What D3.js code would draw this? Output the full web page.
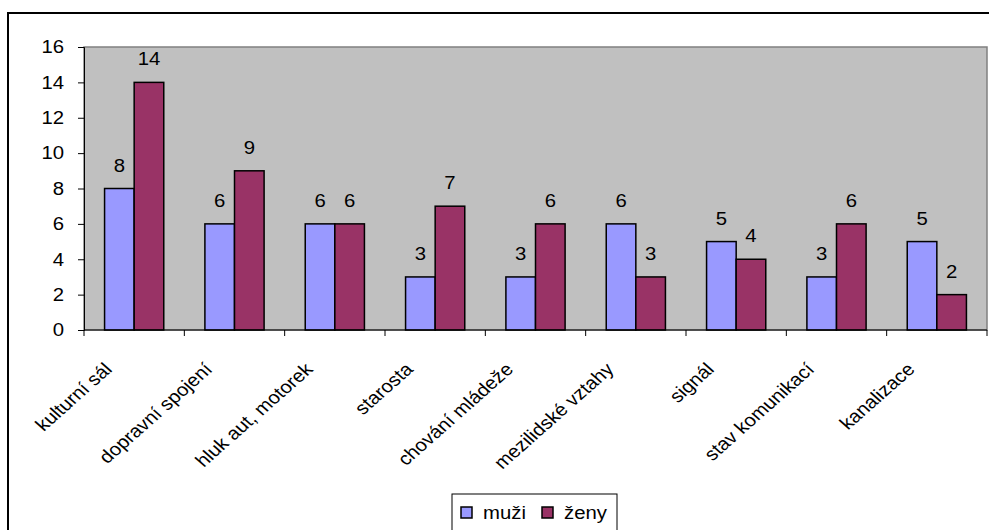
<!DOCTYPE html>
<html>
<head>
<meta charset="utf-8">
<script src="https://cdn.jsdelivr.net/npm/d3@7"></script>
<style>
  html, body { margin: 0; padding: 0; background: #fff; }
  svg { display: block; font-family: "Liberation Sans", Arial, sans-serif; }
</style>
</head>
<body>
<svg id="chart" width="989" height="530"></svg>
<script>
// Survey answers by category, split by gender
const categories = ["kulturní sál", "dopravní spojení", "hluk aut, motorek", "starosta",
  "chování mládeže", "mezilidské vztahy", "signál", "stav komunikací", "kanalizace"];
const muzi = [8, 6, 6, 3, 3, 6, 5, 3, 5];
const zeny = [14, 9, 6, 7, 6, 3, 4, 6, 2];
const seriesNames = ["muži", "ženy"];
const yTicks = [0, 2, 4, 6, 8, 10, 12, 14, 16];

const colors = ["#9999ff", "#993366"];
const FONT = 18;
const SX = 1.13; // slightly wide lettering
const svg = d3.select("#chart");

// Outer chart frame
svg.append("rect")
  .attr("x", 8).attr("y", 13).attr("width", 1000).attr("height", 540)
  .attr("fill", "#fff").attr("stroke", "#000").attr("stroke-width", 2);

const plot = { left: 84, right: 987, top: 47, bottom: 330 };

const x0 = d3.scaleBand().domain(categories).range([plot.left, plot.right]).paddingInner(0).paddingOuter(0);
const y = d3.scaleLinear().domain([0, 16]).range([plot.bottom, plot.top]);
const x1 = d3.scaleBand().domain(seriesNames).range([0, x0.bandwidth() * 0.59]);
const groupOffset = x0.bandwidth() * 0.205;

// Plot area
svg.append("rect")
  .attr("x", plot.left).attr("y", plot.top)
  .attr("width", plot.right - plot.left).attr("height", plot.bottom - plot.top)
  .attr("fill", "#c0c0c0").attr("stroke", "#808080").attr("stroke-width", 1.5);

const rows = categories.map((c, i) => ({ cat: c, values: [muzi[i], zeny[i]] }));

const groups = svg.append("g").selectAll("g").data(rows).join("g")
  .attr("transform", d => `translate(${x0(d.cat) + groupOffset},0)`);

groups.selectAll("rect").data(d => d.values.map((v, k) => ({ v, k })))
  .join("rect")
  .attr("x", d => x1(seriesNames[d.k]))
  .attr("y", d => y(d.v))
  .attr("width", x1.bandwidth())
  .attr("height", d => y(0) - y(d.v))
  .attr("fill", d => colors[d.k])
  .attr("stroke", "#000").attr("stroke-width", 1.5);

groups.selectAll("text.val").data(d => d.values.map((v, k) => ({ v, k })))
  .join("text").attr("class", "val")
  .attr("transform", d => `translate(${x1(seriesNames[d.k]) + x1.bandwidth() / 2},${y(d.v) - 17}) scale(${SX},1)`)
  .attr("text-anchor", "middle")
  .attr("font-size", FONT)
  .attr("fill", "#000")
  .text(d => d.v);

// Y axis
const yAxis = d3.axisLeft(y).tickValues(yTicks).tickSize(6).tickPadding(14);
const gy = svg.append("g").attr("transform", `translate(${plot.left},0)`).call(yAxis);
gy.select(".domain").attr("stroke", "#000");
gy.selectAll(".tick line").attr("stroke", "#000");
gy.selectAll(".tick text")
  .attr("font-size", FONT).attr("fill", "#000")
  .attr("font-family", "Liberation Sans, Arial, sans-serif")
  .attr("transform", function () { return `translate(${d3.select(this).attr("x")},0) scale(${SX},1) translate(${-d3.select(this).attr("x")},0)`; });

// X axis: ticks on category boundaries
const boundaries = categories.map(c => x0(c)).concat([plot.right]);
const gx = svg.append("g");
gx.append("line").attr("x1", plot.left).attr("x2", plot.right)
  .attr("y1", plot.bottom).attr("y2", plot.bottom).attr("stroke", "#000");
gx.selectAll("line.tk").data(boundaries).join("line").attr("class", "tk")
  .attr("x1", d => d).attr("x2", d => d)
  .attr("y1", plot.bottom).attr("y2", plot.bottom + 6).attr("stroke", "#000");

gx.selectAll("text").data(categories).join("text")
  .attr("transform", d => {
    const cx = x0(d) + x0.bandwidth() / 2 - 26;
    return `translate(${cx},${plot.bottom + 36}) scale(${SX},1) rotate(-45)`;
  })
  .attr("text-anchor", "end")
  .attr("dy", "0.35em")
  .attr("font-size", FONT)
  .attr("fill", "#000")
  .text(d => d);

// Legend
const legend = svg.append("g");
legend.append("rect").attr("x", 452).attr("y", 494).attr("width", 165).attr("height", 50)
  .attr("fill", "#fff").attr("stroke", "#000").attr("stroke-width", 1);
const legendX = [461, 542];
seriesNames.forEach((name, k) => {
  legend.append("rect").attr("x", legendX[k]).attr("y", 507).attr("width", 11).attr("height", 11)
    .attr("fill", colors[k]).attr("stroke", "#000").attr("stroke-width", 1.5);
  legend.append("text")
    .attr("transform", `translate(${legendX[k] + 22},519) scale(${SX},1)`)
    .attr("font-size", FONT).attr("fill", "#000").text(name);
});
</script>
</body>
</html>
